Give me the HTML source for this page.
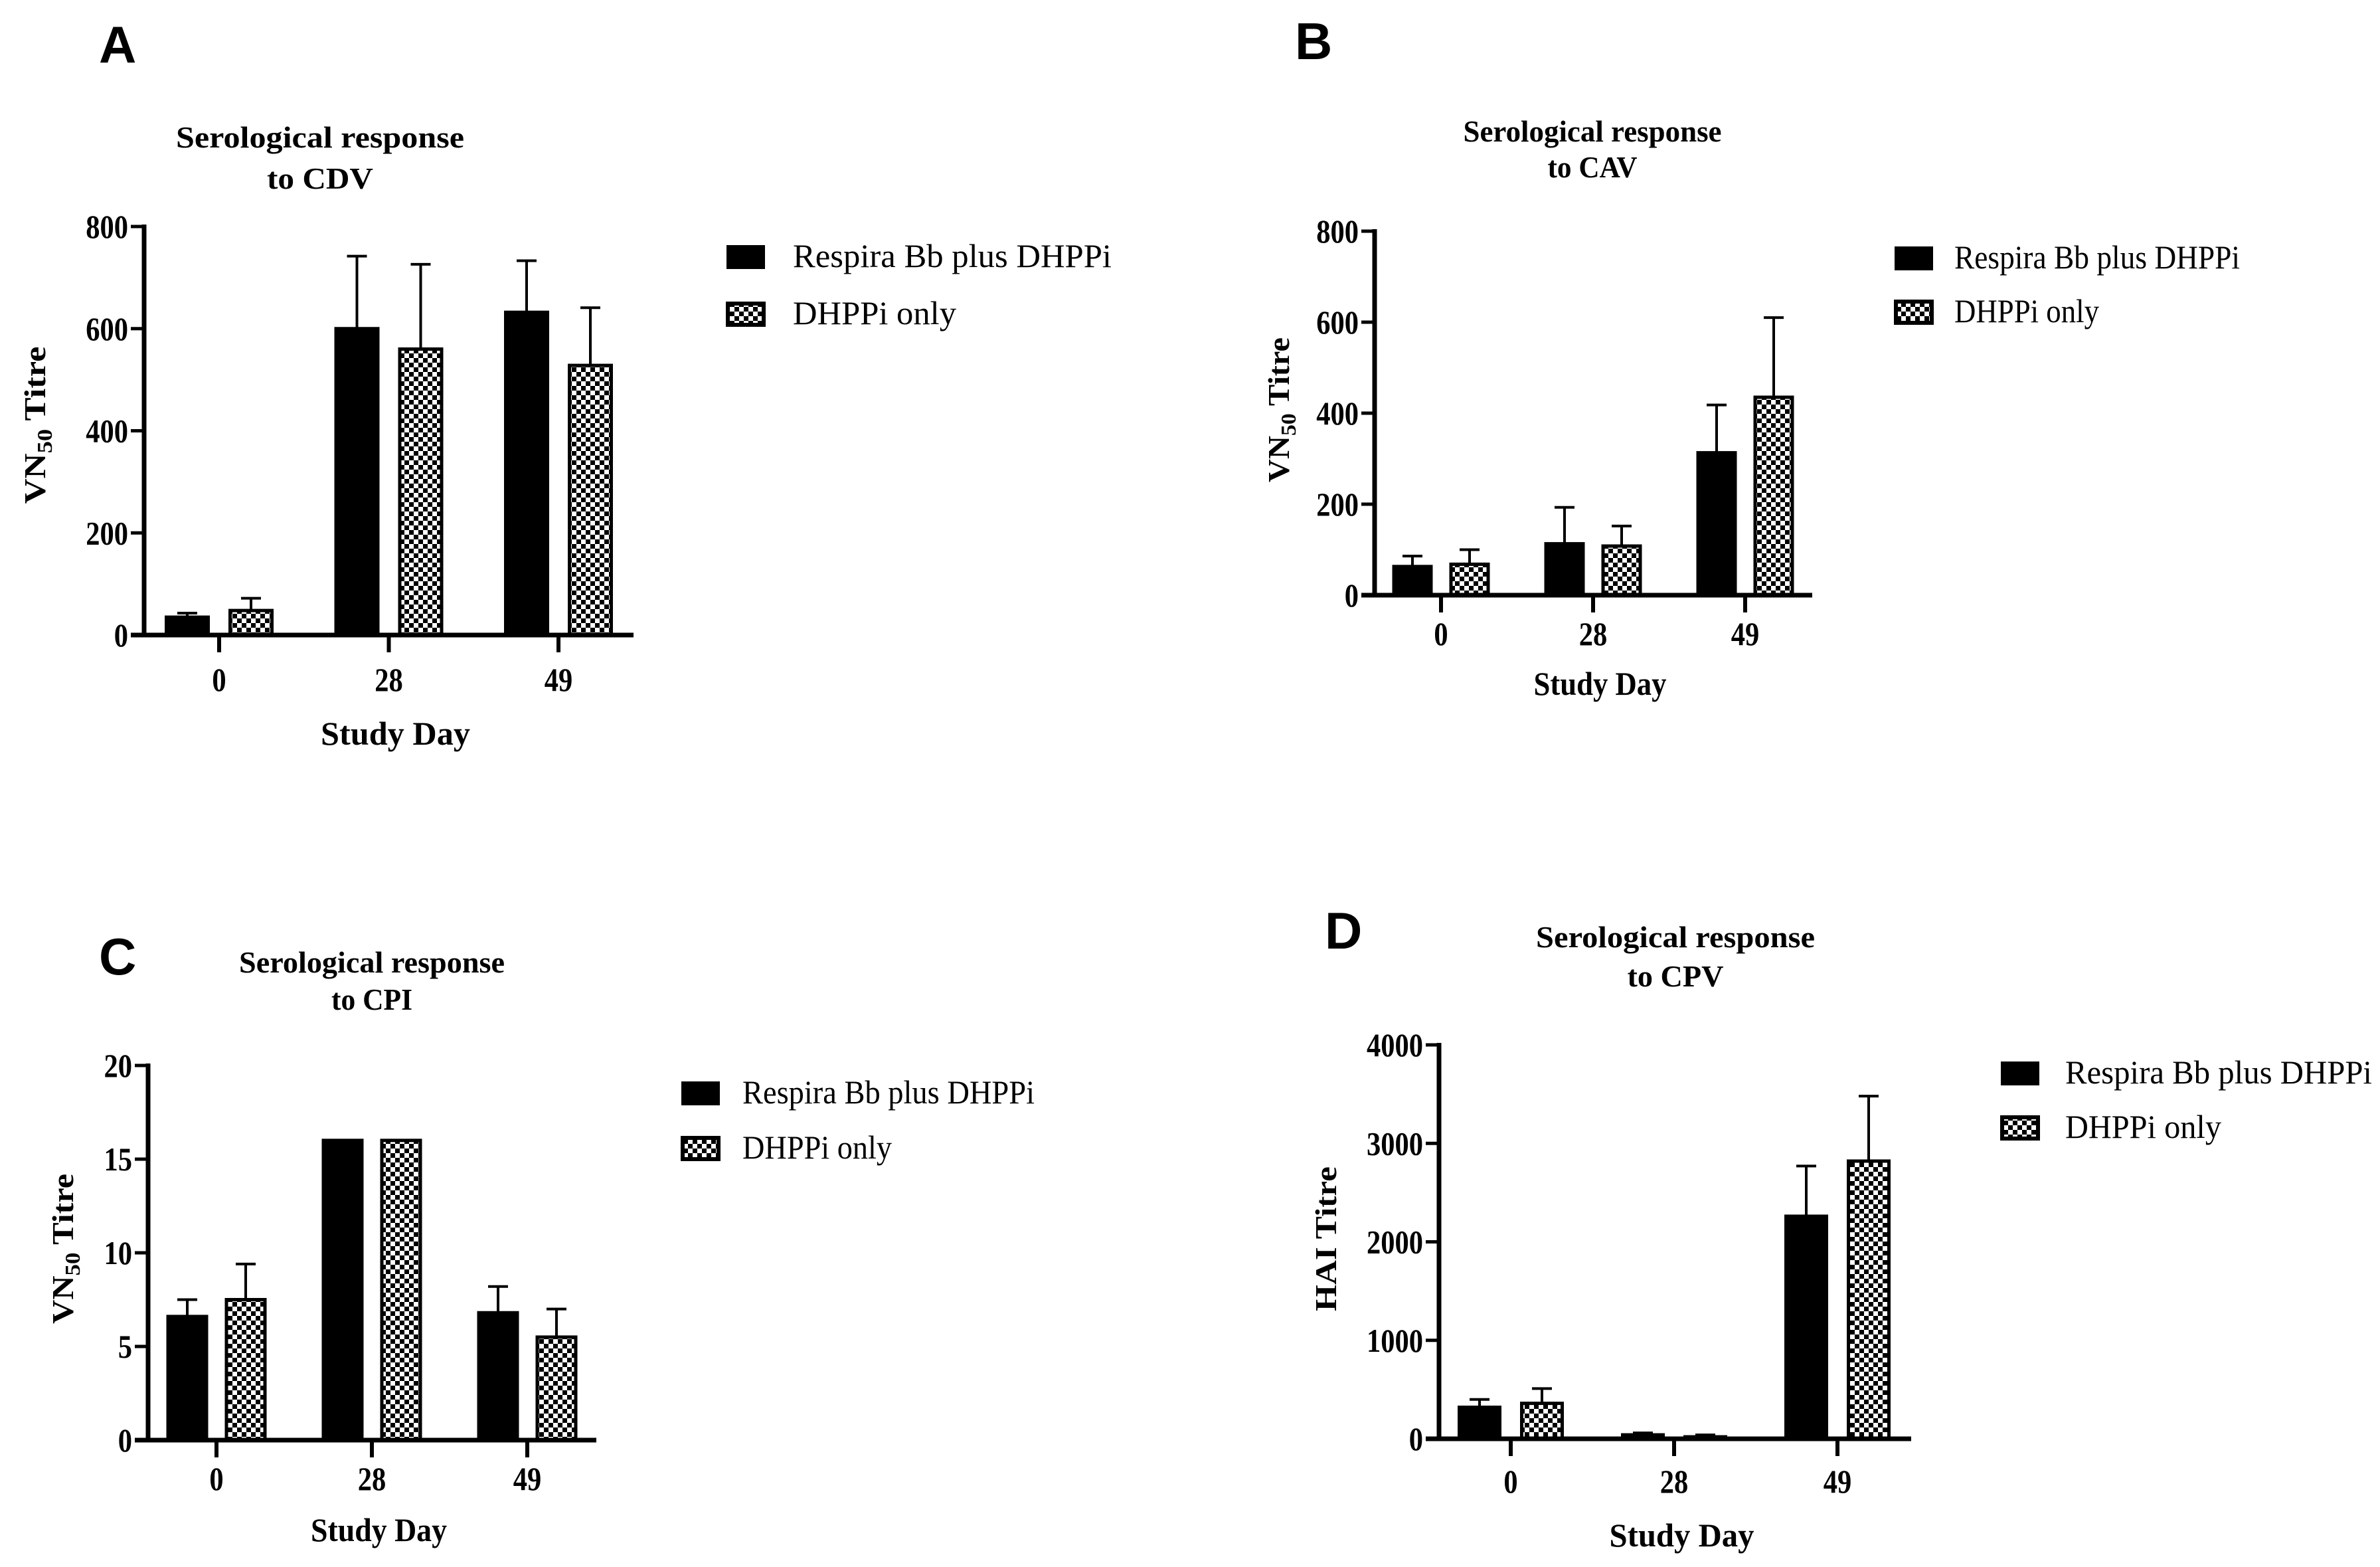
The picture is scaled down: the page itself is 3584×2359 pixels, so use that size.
<!DOCTYPE html>
<html><head><meta charset="utf-8"><style>
html,body{margin:0;padding:0;background:#fff;overflow:hidden;}
svg{display:block;}
text{font-family:"Liberation Serif",serif;fill:#000;}
</style></head><body>
<svg id="fig" width="3584" height="2359" viewBox="0 0 3584 2359" xmlns="http://www.w3.org/2000/svg">
<defs>
<pattern id="chk" width="14" height="14" patternUnits="userSpaceOnUse">
<rect width="14" height="14" fill="#fff"/><rect width="7" height="7" fill="#000"/><rect x="7" y="7" width="7" height="7" fill="#000"/>
</pattern>
</defs>
</svg>
<script>
const categories = ["0","28","49"];
const seriesNames = ["Respira Bb plus DHPPi","DHPPi only"];
const cdvBlack = [35, 600, 632];
const cdvBlackErr = [43, 742, 733];
const cdvCheck = [48, 560, 528];
const cdvCheckErr = [72, 726, 641];
const cavBlack = [63, 113, 313];
const cavBlackErr = [86, 193, 418];
const cavCheck = [68, 108, 435];
const cavCheckErr = [100, 152, 610];
const cpiBlack = [6.6, 16, 6.8];
const cpiBlackErr = [7.5, 16, 8.2];
const cpiCheck = [7.5, 16, 5.5];
const cpiCheckErr = [9.4, 16, 7.0];
const cpvBlack = [320, 40, 2260];
const cpvBlackErr = [400, 60, 2770];
const cpvCheck = [360, 20, 2820];
const cpvCheckErr = [510, 40, 3480];
const ticksCDV = [0,200,400,600,800];
const ticksCAV = [0,200,400,600,800];
const ticksCPI = [0,5,10,15,20];
const ticksCPV = [0,1000,2000,3000,4000];

const NS = "http://www.w3.org/2000/svg";
const svg = document.getElementById("fig");
function mk(tag, attrs, parent){
  const e = document.createElementNS(NS, tag);
  for (const k in attrs) e.setAttribute(k, attrs[k]);
  (parent||svg).appendChild(e);
  return e;
}
function txt(parent, s, x, y, size, anchor, len, weight){
  const t = mk("text", {x:x, y:y, "font-size":size, "text-anchor":anchor||"middle"}, parent);
  if (len) { t.setAttribute("textLength", len); t.setAttribute("lengthAdjust","spacingAndGlyphs"); }
  if (weight) t.setAttribute("font-weight", weight);
  t.textContent = s;
  return t;
}

const panels = [
 {id:"a", letter:"A", lx:149, ly:94, title:["Serological response","to CDV"], tx:482, ty1:222, ty2:284, tw1:434, tw2:160,
  ax:217, y0:956, yTop:341, ymax:800, ticks:ticksCDV, first:330, step:255.5, off:48, bw:63, xEnd:954,
  tickLabY:1040, xt:"Study Day", xtY:1121, xtW:225, yl:"VN", ylx:68, ylc:640, ylW:237,
  legBox:1094, legY1:369, legY2:455, legText:1194, legW1:480, legW2:246,
  blk:cdvBlack, blkE:cdvBlackErr, chk:cdvCheck, chkE:cdvCheckErr},
 {id:"b", letter:"B", lx:1950, ly:89, title:["Serological response","to CAV"], tx:2398, ty1:213, ty2:267, tw1:389, tw2:135,
  ax:2070, y0:896, yTop:348, ymax:800, ticks:ticksCAV, first:2170, step:229, off:43, bw:56, xEnd:2729,
  tickLabY:971, xt:"Study Day", xtY:1046, xtW:200, yl:"VN", ylx:1941, ylc:617, ylW:218,
  legBox:2853, legY1:371, legY2:452, legText:2943, legW1:430, legW2:218,
  blk:cavBlack, blkE:cavBlackErr, chk:cavCheck, chkE:cavCheckErr},
 {id:"c", letter:"C", lx:149, ly:1467, title:["Serological response","to CPI"], tx:560, ty1:1464, ty2:1520, tw1:400, tw2:122,
  ax:223, y0:2168, yTop:1604, ymax:20, ticks:ticksCPI, first:326, step:234, off:44, bw:58, xEnd:898,
  tickLabY:2243, xt:"Study Day", xtY:2320, xtW:205, yl:"VN", ylx:110, ylc:1880, ylW:226,
  legBox:1026, legY1:1628, legY2:1711, legText:1118, legW1:440, legW2:225,
  blk:cpiBlack, blkE:cpiBlackErr, chk:cpiCheck, chkE:cpiCheckErr},
 {id:"d", letter:"D", lx:1995, ly:1428, title:["Serological response","to CPV"], tx:2523, ty1:1426, ty2:1485, tw1:420, tw2:145,
  ax:2167, y0:2166, yTop:1573, ymax:4000, ticks:ticksCPV, first:2275, step:246, off:47, bw:61, xEnd:2878,
  tickLabY:2247, xt:"Study Day", xtY:2328, xtW:218, yl:"HAI Titre", ylx:2012, ylc:1865, ylW:218,
  legBox:3013, legY1:1598, legY2:1680, legText:3110, legW1:462, legW2:235,
  blk:cpvBlack, blkE:cpvBlackErr, chk:cpvCheck, chkE:cpvCheckErr}
];

panels.forEach(p => {
  const g = mk("g", {});
  
  
  const yS = v => p.y0 - (v / p.ymax) * (p.y0 - p.yTop);
  const xS = i => p.first + i * p.step;

  const L = mk("text", {x:p.lx, y:p.ly, "font-size":78, "font-weight":"bold", style:"font-family:'Liberation Sans',sans-serif"}, g);
  L.textContent = p.letter;
  
  

  const t1 = txt(g, p.title[0], p.tx, p.ty1, 46, "middle", p.tw1, "bold");
  
  
  const t2 = txt(g, p.title[1], p.tx, p.ty2, 46, "middle", p.tw2, "bold");
  
  

  [[p.blk, p.blkE, "#000", -1, "black"], [p.chk, p.chkE, "url(#chk)", 1, "check"]].forEach(s => {
    s[0].forEach((v, i) => {
      const cx = xS(i) + s[3] * p.off;
      const top = yS(v), errTop = yS(s[1][i]);
      const eb = mk("line", {x1:cx, x2:cx, y1:top, y2:errTop, stroke:"#000", "stroke-width":4}, g);
      
      
      const cap = mk("line", {x1:cx - 15, x2:cx + 15, y1:errTop, y2:errTop, stroke:"#000", "stroke-width":4}, g);
      
      
      const r = mk("rect", {x:cx - p.bw/2, y:top, width:p.bw, height:p.y0 - top, fill:s[2], stroke:"#000", "stroke-width":5}, g);
      
      
    });
  });

  const ya = mk("line", {x1:p.ax, x2:p.ax, y1:p.yTop - 3, y2:p.y0 + 3, stroke:"#000", "stroke-width":7}, g);
  
  
  const xa = mk("line", {x1:p.ax - 20, x2:p.xEnd, y1:p.y0, y2:p.y0, stroke:"#000", "stroke-width":7}, g);
  
  

  p.ticks.forEach(v => {
    const y = yS(v);
    const tk = mk("line", {x1:p.ax - 20, x2:p.ax, y1:y, y2:y, stroke:"#000", "stroke-width":5}, g);
    
    
    const lab = mk("text", {transform:"translate(" + (p.ax - 24) + "," + (y + 17) + ") scale(0.85,1)", "font-size":50, "font-weight":"bold", "text-anchor":"end"}, g);
    lab.textContent = String(v);
    
    
  });
  categories.forEach((c, i) => {
    const x = xS(i);
    const tk = mk("line", {x1:x, x2:x, y1:p.y0, y2:p.y0 + 26, stroke:"#000", "stroke-width":6}, g);
    
    
    const lab = mk("text", {transform:"translate(" + x + "," + p.tickLabY + ") scale(0.85,1)", "font-size":50, "font-weight":"bold", "text-anchor":"middle"}, g);
    lab.textContent = c;
    
    
  });

  const xt = txt(g, p.xt, (p.ax + p.xEnd)/2 + 10, p.xtY, 50, "middle", p.xtW, "bold");
  
  

  const yl = mk("text", {transform:"translate(" + p.ylx + "," + p.ylc + ") rotate(-90)", "font-size":46, "font-weight":"bold", "text-anchor":"middle", textLength:p.ylW, lengthAdjust:"spacingAndGlyphs"}, g);
  if (p.yl === "VN") {
    yl.appendChild(document.createTextNode("VN"));
    const sub = document.createElementNS(NS, "tspan");
    sub.setAttribute("font-size", 32); sub.setAttribute("dy", 10);
    sub.textContent = "50";
    yl.appendChild(sub);
    const rest = document.createElementNS(NS, "tspan");
    rest.setAttribute("dy", -10);
    rest.textContent = " Titre";
    yl.appendChild(rest);
  } else {
    yl.textContent = p.yl;
  }
  
  

  const lb1 = mk("rect", {x:p.legBox, y:p.legY1, width:58, height:36, fill:"#000"}, g);
  
  
  const lt1 = txt(g, seriesNames[0], p.legText, p.legY1 + 33, 50, "start", p.legW1);
  
  
  const lb2 = mk("rect", {x:p.legBox + 2, y:p.legY2 + 2, width:54, height:32, fill:"url(#chk)", stroke:"#000", "stroke-width":6}, g);
  
  
  const lt2 = txt(g, seriesNames[1], p.legText, p.legY2 + 33, 50, "start", p.legW2);
  
  
});
</script>
</body></html>
